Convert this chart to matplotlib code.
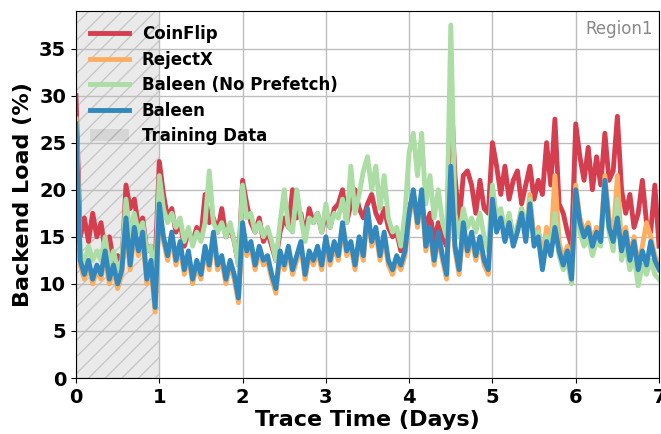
import numpy as np
import matplotlib
matplotlib.use('Agg')
import matplotlib.pyplot as plt
from matplotlib.patches import Patch

# trace time in days, one sample every 0.05 day
days = np.linspace(0, 7, 141)

# backend load (%), one row per day
coinflip = [30.0, 15.0, 17.0, 14.5, 17.5, 15.0, 16.5, 13.5, 15.0, 12.5, 13.0, 12.0, 20.5, 18.0, 19.0, 16.0, 17.0, 13.5, 14.0, 12.0,
            23.0, 19.5, 17.0, 18.0, 15.5, 16.5, 14.0, 15.5, 14.5, 16.0, 15.0, 19.5, 16.5, 17.0, 15.5, 18.0, 15.0, 16.0, 14.5, 12.0,
            21.0, 18.5, 16.5, 15.5, 17.0, 14.5, 15.5, 14.0, 12.5, 15.5, 17.0, 16.0, 20.0, 17.0, 17.5, 15.0, 18.0, 16.5, 17.5, 15.5,
            17.5, 16.0, 18.0, 18.5, 20.0, 16.5, 18.5, 20.0, 18.0, 17.0, 18.5, 19.5, 17.5, 16.5, 18.0, 16.0, 15.0, 15.5, 13.5, 16.5,
            18.0, 19.5, 17.0, 18.5, 16.0, 17.5, 14.5, 16.5, 15.0, 14.0, 31.0, 21.5, 16.5, 21.5, 22.0, 20.5, 17.5, 21.0, 18.0, 17.5,
            25.0, 22.5, 19.5, 22.5, 19.0, 21.0, 22.0, 18.5, 20.5, 22.5, 19.0, 21.0, 19.5, 25.0, 20.5, 27.5, 18.5, 17.5, 15.5, 14.0,
            27.0, 23.5, 21.0, 24.5, 20.0, 23.5, 20.5, 26.0, 21.0, 22.0, 27.8, 20.0, 17.5, 19.5, 16.0, 17.5, 21.0, 16.5, 15.5, 20.5, 14.0]

rejectx = [27.5, 12.0, 10.5, 12.0, 10.0, 11.5, 10.5, 13.0, 10.0, 11.5, 9.5, 11.0, 16.5, 11.5, 15.5, 13.0, 15.0, 10.0, 12.0, 7.0,
           18.0, 14.5, 12.5, 15.0, 12.0, 14.0, 11.0, 13.0, 10.0, 12.0, 10.5, 13.5, 11.5, 15.0, 11.5, 12.5, 10.0, 12.0, 10.5, 8.0,
           16.0, 13.0, 14.0, 11.5, 13.5, 12.0, 12.5, 10.5, 9.0, 13.0, 11.5, 13.5, 11.0, 12.5, 14.0, 10.5, 13.0, 12.0, 13.5, 11.5,
           14.5, 12.0, 14.0, 12.5, 16.0, 13.0, 14.0, 11.5, 14.5, 12.5, 17.5, 14.0, 15.5, 12.5, 15.0, 12.0, 11.0, 12.5, 11.5, 13.0,
           17.0, 19.5, 16.0, 19.5, 13.5, 15.5, 12.0, 15.0, 12.5, 10.5, 22.0, 13.5, 11.0, 16.0, 13.0, 15.0, 12.5, 14.5, 12.0, 11.0,
           19.5, 16.5, 17.5, 15.0, 17.0, 15.0, 16.0, 18.0, 15.5, 19.5, 14.5, 16.0, 12.5, 16.0, 14.0, 21.5, 14.5, 12.5, 14.0, 11.0,
           20.5, 17.0, 15.5, 16.5, 14.5, 16.0, 15.0, 21.5, 17.0, 15.0, 21.5, 14.0, 16.0, 13.0, 15.0, 12.0, 14.0, 16.5, 15.0, 13.0, 12.0]

baleen_np = [27.5, 13.5, 12.0, 14.0, 12.5, 13.5, 12.5, 15.0, 12.0, 13.5, 11.5, 12.5, 19.0, 15.0, 17.5, 15.5, 16.5, 13.5, 14.0, 9.5,
             21.5, 18.0, 16.5, 17.5, 16.0, 17.0, 14.5, 16.0, 14.0, 15.5, 14.5, 16.5, 22.0, 16.5, 15.5, 16.5, 15.0, 16.5, 14.5, 12.0,
             20.5, 17.0, 17.5, 15.5, 16.5, 15.0, 16.0, 14.5, 12.5, 16.5, 20.0, 16.0, 15.5, 20.0, 17.0, 14.5, 17.0, 16.5, 17.5, 15.5,
             18.5, 16.0, 17.5, 17.0, 19.0, 16.5, 22.5, 17.5, 19.5, 22.0, 23.5, 20.0, 22.5, 18.0, 21.5, 17.0, 15.5, 16.0, 14.0, 17.5,
             24.0, 26.0, 21.5, 26.0, 18.5, 21.5, 17.0, 20.0, 16.5, 15.0, 37.5, 17.5, 15.0, 18.0, 16.0, 17.0, 15.5, 17.5, 15.0, 13.5,
             20.5, 17.0, 18.0, 15.5, 17.5, 15.0, 16.0, 18.0, 15.0, 19.0, 14.5, 15.5, 12.0, 15.0, 14.0, 17.5, 13.0, 11.5, 12.5, 10.0,
             19.5, 15.5, 14.0, 15.0, 13.0, 14.5, 14.0, 20.0, 15.5, 13.5, 19.0, 12.5, 14.0, 11.5, 13.0, 9.8, 12.0, 11.0, 12.5, 11.0, 10.5]

baleen = [27.0, 12.5, 11.0, 12.5, 10.5, 12.0, 11.0, 13.5, 10.5, 12.0, 10.0, 11.5, 17.0, 12.0, 16.0, 13.5, 15.5, 10.5, 12.5, 7.5,
          18.5, 15.0, 13.0, 15.5, 12.5, 14.5, 11.5, 13.5, 10.5, 12.5, 11.0, 14.0, 12.0, 15.5, 12.0, 13.0, 10.5, 12.5, 11.0, 8.5,
          16.5, 13.5, 14.5, 12.0, 14.0, 12.5, 13.0, 11.0, 9.5, 13.5, 12.0, 14.0, 11.5, 13.0, 14.5, 11.0, 13.5, 12.5, 14.0, 12.0,
          15.0, 12.5, 14.5, 13.0, 16.5, 13.5, 14.5, 12.0, 15.0, 13.0, 18.0, 14.5, 16.0, 13.0, 15.5, 12.5, 11.5, 13.0, 12.0, 13.5,
          17.5, 20.0, 16.5, 20.0, 14.0, 16.0, 12.5, 15.5, 13.0, 11.0, 22.5, 14.0, 11.5, 16.5, 13.5, 15.5, 13.0, 15.0, 12.5, 11.5,
          19.0, 15.5, 17.0, 14.5, 16.5, 14.0, 15.5, 17.5, 14.5, 18.5, 14.0, 15.0, 11.5, 14.5, 13.0, 16.0, 13.5, 12.0, 13.5, 10.5,
          20.0, 16.5, 15.0, 16.0, 14.0, 15.5, 14.5, 21.0, 16.0, 14.5, 17.0, 13.5, 15.5, 12.5, 14.5, 11.5, 13.5, 12.0, 14.5, 12.5, 11.5]

series = [('CoinFlip', coinflip, '#d53e4f'),
          ('RejectX', rejectx, '#fdae61'),
          ('Baleen (No Prefetch)', baleen_np, '#abdda4'),
          ('Baleen', baleen, '#3288bd')]

fig = plt.figure(figsize=(6.61, 4.34), dpi=100)
ax = fig.add_axes([0.115, 0.129, 0.882, 0.846])

ax.axvspan(0, 1, facecolor='#eaeaea', edgecolor='#c8c8c8', hatch='//', lw=0, zorder=0)
for name, vals, col in series:
    ax.plot(days, vals, color=col, lw=3.5, label=name, zorder=2)

ax.set_xlim(0, 7)
ax.set_ylim(0, 39)
ax.set_xticks(range(0, 8))
ax.set_yticks(range(0, 40, 5))
ax.grid(True, color='#bdbdbd', lw=1, zorder=1)
ax.set_axisbelow(True)
ax.tick_params(labelsize=14)
for lab in ax.get_xticklabels() + ax.get_yticklabels():
    lab.set_fontweight('bold')
ax.set_xlabel('Trace Time (Days)', fontsize=16, fontweight='bold', labelpad=2)
ax.set_ylabel('Backend Load (%)', fontsize=16, fontweight='bold', labelpad=4)

ax.text(0.99, 0.975, 'Region1', transform=ax.transAxes, ha='right', va='top',
        fontsize=12, color='#888888')

handles, labels = ax.get_legend_handles_labels()
handles.append(Patch(facecolor='#d6d6d6', edgecolor='#b4b4b4', hatch='//', lw=0))
labels.append('Training Data')
ax.legend(handles, labels, loc='upper left', frameon=False,
          prop={'size': 12, 'weight': 'bold'}, handlelength=2.3,
          borderaxespad=0.45, labelspacing=0.45)

fig.savefig('out.png', dpi=100)
